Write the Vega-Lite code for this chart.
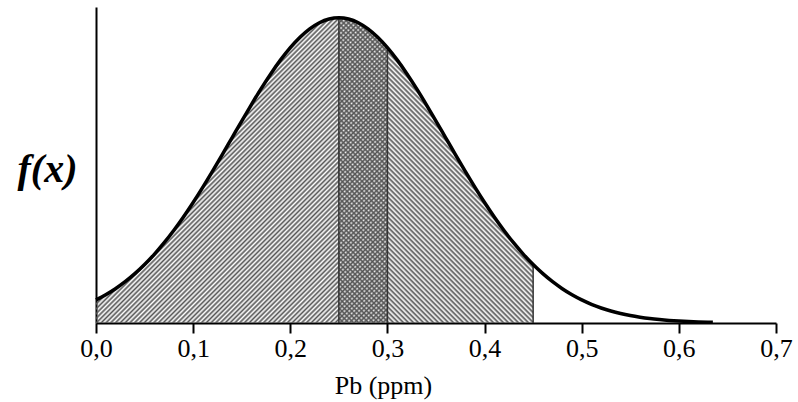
{
"$schema": "https://vega.github.io/schema/vega-lite/v6.json",
"width": 680, "height": 316,
"autosize": {"type": "none"},
"padding": {"left": 96, "top": 7, "right": 22, "bottom": 79},
"background": "white",
"config": {"view": {"stroke": null}, "font": "Liberation Serif"},
"data": {"values": [
{"x":0,"f":0.0756},{"x":0.01,"f":0.0925},{"x":0.02,"f":0.1124},{"x":0.03,"f":0.1353},{"x":0.04,"f":0.1616},
{"x":0.05,"f":0.1915},{"x":0.06,"f":0.2250},{"x":0.07,"f":0.2622},{"x":0.08,"f":0.3029},{"x":0.09,"f":0.3472},
{"x":0.1,"f":0.3946},{"x":0.11,"f":0.4449},{"x":0.12,"f":0.4974},{"x":0.13,"f":0.5515},{"x":0.14,"f":0.6065},
{"x":0.15,"f":0.6615},{"x":0.16,"f":0.7155},{"x":0.17,"f":0.7676},{"x":0.18,"f":0.8167},{"x":0.19,"f":0.8618},
{"x":0.2,"f":0.9019},{"x":0.21,"f":0.9360},{"x":0.22,"f":0.9635},{"x":0.23,"f":0.9836},{"x":0.24,"f":0.9959},
{"x":0.25,"f":1},{"x":0.26,"f":0.9959},{"x":0.27,"f":0.9836},{"x":0.28,"f":0.9635},{"x":0.29,"f":0.9360},
{"x":0.3,"f":0.9019},{"x":0.31,"f":0.8618},{"x":0.32,"f":0.8167},{"x":0.33,"f":0.7676},{"x":0.34,"f":0.7155},
{"x":0.35,"f":0.6615},{"x":0.36,"f":0.6065},{"x":0.37,"f":0.5515},{"x":0.38,"f":0.4974},{"x":0.39,"f":0.4449},
{"x":0.4,"f":0.3946},{"x":0.41,"f":0.3472},{"x":0.42,"f":0.3029},{"x":0.43,"f":0.2622},{"x":0.44,"f":0.2250},
{"x":0.45,"f":0.1915},{"x":0.46,"f":0.1616},{"x":0.47,"f":0.1353},{"x":0.48,"f":0.1124},{"x":0.49,"f":0.0925},
{"x":0.5,"f":0.0756},{"x":0.51,"f":0.0612},{"x":0.52,"f":0.0492},{"x":0.53,"f":0.0392},{"x":0.54,"f":0.0310},
{"x":0.55,"f":0.0243},{"x":0.56,"f":0.0189},{"x":0.57,"f":0.0145},{"x":0.58,"f":0.0111},{"x":0.59,"f":0.0084},
{"x":0.6,"f":0.0063},{"x":0.61,"f":0.0047},{"x":0.62,"f":0.0035},{"x":0.63,"f":0.0026},{"x":0.635,"f":0.0022}
]},
"encoding": {
  "x": {"field": "x", "type": "quantitative", "scale": {"domain": [0, 0.7], "nice": false, "zero": false},
    "axis": {"values": [0, 0.1, 0.2, 0.3, 0.4, 0.5, 0.6, 0.7], "labelExpr": "replace(format(datum.value, '.1f'), '.', ',')",
      "title": "Pb (ppm)", "grid": false, "domainColor": "black", "domainWidth": 2, "tickColor": "black", "tickWidth": 2, "tickSize": 10,
      "labelFont": "Liberation Serif", "labelFontSize": 26, "labelColor": "black", "labelPadding": 2, "labelFlush": false, "labelOverlap": false,
      "titleFont": "Liberation Serif", "titleFontSize": 26, "titleFontWeight": "normal", "titleColor": "black",
      "titleX": 287, "titleY": 70, "titleAlign": "center", "titleBaseline": "alphabetic"}},
  "y": {"field": "f", "type": "quantitative", "scale": {"domain": [0, 1.035], "nice": false},
    "axis": {"title": "f(x)", "labels": false, "ticks": false, "grid": false, "domainColor": "black", "domainWidth": 2,
      "titleFont": "Liberation Serif", "titleFontSize": 40, "titleFontStyle": "italic", "titleFontWeight": "bold", "titleColor": "black",
      "titleAngle": 0, "titleX": -49, "titleY": 162, "titleAlign": "center", "titleBaseline": "middle"}}
},
"layer": [
{"transform": [{"filter": "datum.x <= 0.3"}],
 "mark": {"type": "area", "interpolate": "monotone", "fill": {"gradient": "linear", "x1": 0, "y1": 0, "x2": 0.9762, "y2": 1.0227, "stops": [
{"offset":0,"color":"#555"},{"offset":0.004,"color":"#5550"},{"offset":0.008,"color":"#555"},{"offset":0.012,"color":"#5550"},{"offset":0.016,"color":"#555"},{"offset":0.02,"color":"#5550"},{"offset":0.024,"color":"#555"},{"offset":0.028,"color":"#5550"},{"offset":0.032,"color":"#555"},{"offset":0.036,"color":"#5550"},
{"offset":0.04,"color":"#555"},{"offset":0.044,"color":"#5550"},{"offset":0.048,"color":"#555"},{"offset":0.052,"color":"#5550"},{"offset":0.056,"color":"#555"},{"offset":0.06,"color":"#5550"},{"offset":0.064,"color":"#555"},{"offset":0.068,"color":"#5550"},{"offset":0.072,"color":"#555"},{"offset":0.076,"color":"#5550"},
{"offset":0.08,"color":"#555"},{"offset":0.084,"color":"#5550"},{"offset":0.088,"color":"#555"},{"offset":0.092,"color":"#5550"},{"offset":0.096,"color":"#555"},{"offset":0.1,"color":"#5550"},{"offset":0.104,"color":"#555"},{"offset":0.108,"color":"#5550"},{"offset":0.112,"color":"#555"},{"offset":0.116,"color":"#5550"},
{"offset":0.12,"color":"#555"},{"offset":0.124,"color":"#5550"},{"offset":0.128,"color":"#555"},{"offset":0.132,"color":"#5550"},{"offset":0.136,"color":"#555"},{"offset":0.14,"color":"#5550"},{"offset":0.144,"color":"#555"},{"offset":0.148,"color":"#5550"},{"offset":0.152,"color":"#555"},{"offset":0.156,"color":"#5550"},
{"offset":0.16,"color":"#555"},{"offset":0.164,"color":"#5550"},{"offset":0.168,"color":"#555"},{"offset":0.172,"color":"#5550"},{"offset":0.176,"color":"#555"},{"offset":0.18,"color":"#5550"},{"offset":0.184,"color":"#555"},{"offset":0.188,"color":"#5550"},{"offset":0.192,"color":"#555"},{"offset":0.196,"color":"#5550"},
{"offset":0.2,"color":"#555"},{"offset":0.204,"color":"#5550"},{"offset":0.208,"color":"#555"},{"offset":0.212,"color":"#5550"},{"offset":0.216,"color":"#555"},{"offset":0.22,"color":"#5550"},{"offset":0.224,"color":"#555"},{"offset":0.228,"color":"#5550"},{"offset":0.232,"color":"#555"},{"offset":0.236,"color":"#5550"},
{"offset":0.24,"color":"#555"},{"offset":0.244,"color":"#5550"},{"offset":0.248,"color":"#555"},{"offset":0.252,"color":"#5550"},{"offset":0.256,"color":"#555"},{"offset":0.26,"color":"#5550"},{"offset":0.264,"color":"#555"},{"offset":0.268,"color":"#5550"},{"offset":0.272,"color":"#555"},{"offset":0.276,"color":"#5550"},
{"offset":0.28,"color":"#555"},{"offset":0.284,"color":"#5550"},{"offset":0.288,"color":"#555"},{"offset":0.292,"color":"#5550"},{"offset":0.296,"color":"#555"},{"offset":0.3,"color":"#5550"},{"offset":0.304,"color":"#555"},{"offset":0.308,"color":"#5550"},{"offset":0.312,"color":"#555"},{"offset":0.316,"color":"#5550"},
{"offset":0.32,"color":"#555"},{"offset":0.324,"color":"#5550"},{"offset":0.328,"color":"#555"},{"offset":0.332,"color":"#5550"},{"offset":0.336,"color":"#555"},{"offset":0.34,"color":"#5550"},{"offset":0.344,"color":"#555"},{"offset":0.348,"color":"#5550"},{"offset":0.352,"color":"#555"},{"offset":0.356,"color":"#5550"},
{"offset":0.36,"color":"#555"},{"offset":0.364,"color":"#5550"},{"offset":0.368,"color":"#555"},{"offset":0.372,"color":"#5550"},{"offset":0.376,"color":"#555"},{"offset":0.38,"color":"#5550"},{"offset":0.384,"color":"#555"},{"offset":0.388,"color":"#5550"},{"offset":0.392,"color":"#555"},{"offset":0.396,"color":"#5550"},
{"offset":0.4,"color":"#555"},{"offset":0.404,"color":"#5550"},{"offset":0.408,"color":"#555"},{"offset":0.412,"color":"#5550"},{"offset":0.416,"color":"#555"},{"offset":0.42,"color":"#5550"},{"offset":0.424,"color":"#555"},{"offset":0.428,"color":"#5550"},{"offset":0.432,"color":"#555"},{"offset":0.436,"color":"#5550"},
{"offset":0.44,"color":"#555"},{"offset":0.444,"color":"#5550"},{"offset":0.448,"color":"#555"},{"offset":0.452,"color":"#5550"},{"offset":0.456,"color":"#555"},{"offset":0.46,"color":"#5550"},{"offset":0.464,"color":"#555"},{"offset":0.468,"color":"#5550"},{"offset":0.472,"color":"#555"},{"offset":0.476,"color":"#5550"},
{"offset":0.48,"color":"#555"},{"offset":0.484,"color":"#5550"},{"offset":0.488,"color":"#555"},{"offset":0.492,"color":"#5550"},{"offset":0.496,"color":"#555"},{"offset":0.5,"color":"#5550"},{"offset":0.504,"color":"#555"},{"offset":0.508,"color":"#5550"},{"offset":0.512,"color":"#555"},{"offset":0.516,"color":"#5550"},
{"offset":0.52,"color":"#555"},{"offset":0.524,"color":"#5550"},{"offset":0.528,"color":"#555"},{"offset":0.532,"color":"#5550"},{"offset":0.536,"color":"#555"},{"offset":0.54,"color":"#5550"},{"offset":0.544,"color":"#555"},{"offset":0.548,"color":"#5550"},{"offset":0.552,"color":"#555"},{"offset":0.556,"color":"#5550"},
{"offset":0.56,"color":"#555"},{"offset":0.564,"color":"#5550"},{"offset":0.568,"color":"#555"},{"offset":0.572,"color":"#5550"},{"offset":0.576,"color":"#555"},{"offset":0.58,"color":"#5550"},{"offset":0.584,"color":"#555"},{"offset":0.588,"color":"#5550"},{"offset":0.592,"color":"#555"},{"offset":0.596,"color":"#5550"},
{"offset":0.6,"color":"#555"},{"offset":0.604,"color":"#5550"},{"offset":0.608,"color":"#555"},{"offset":0.612,"color":"#5550"},{"offset":0.616,"color":"#555"},{"offset":0.62,"color":"#5550"},{"offset":0.624,"color":"#555"},{"offset":0.628,"color":"#5550"},{"offset":0.632,"color":"#555"},{"offset":0.636,"color":"#5550"},
{"offset":0.64,"color":"#555"},{"offset":0.644,"color":"#5550"},{"offset":0.648,"color":"#555"},{"offset":0.652,"color":"#5550"},{"offset":0.656,"color":"#555"},{"offset":0.66,"color":"#5550"},{"offset":0.664,"color":"#555"},{"offset":0.668,"color":"#5550"},{"offset":0.672,"color":"#555"},{"offset":0.676,"color":"#5550"},
{"offset":0.68,"color":"#555"},{"offset":0.684,"color":"#5550"},{"offset":0.688,"color":"#555"},{"offset":0.692,"color":"#5550"},{"offset":0.696,"color":"#555"},{"offset":0.7,"color":"#5550"},{"offset":0.704,"color":"#555"},{"offset":0.708,"color":"#5550"},{"offset":0.712,"color":"#555"},{"offset":0.716,"color":"#5550"},
{"offset":0.72,"color":"#555"},{"offset":0.724,"color":"#5550"},{"offset":0.728,"color":"#555"},{"offset":0.732,"color":"#5550"},{"offset":0.736,"color":"#555"},{"offset":0.74,"color":"#5550"},{"offset":0.744,"color":"#555"},{"offset":0.748,"color":"#5550"},{"offset":0.752,"color":"#555"},{"offset":0.756,"color":"#5550"},
{"offset":0.76,"color":"#555"},{"offset":0.764,"color":"#5550"},{"offset":0.768,"color":"#555"},{"offset":0.772,"color":"#5550"},{"offset":0.776,"color":"#555"},{"offset":0.78,"color":"#5550"},{"offset":0.784,"color":"#555"},{"offset":0.788,"color":"#5550"},{"offset":0.792,"color":"#555"},{"offset":0.796,"color":"#5550"},
{"offset":0.8,"color":"#555"},{"offset":0.804,"color":"#5550"},{"offset":0.808,"color":"#555"},{"offset":0.812,"color":"#5550"},{"offset":0.816,"color":"#555"},{"offset":0.82,"color":"#5550"},{"offset":0.824,"color":"#555"},{"offset":0.828,"color":"#5550"},{"offset":0.832,"color":"#555"},{"offset":0.836,"color":"#5550"},
{"offset":0.84,"color":"#555"},{"offset":0.844,"color":"#5550"},{"offset":0.848,"color":"#555"},{"offset":0.852,"color":"#5550"},{"offset":0.856,"color":"#555"},{"offset":0.86,"color":"#5550"},{"offset":0.864,"color":"#555"},{"offset":0.868,"color":"#5550"},{"offset":0.872,"color":"#555"},{"offset":0.876,"color":"#5550"},
{"offset":0.88,"color":"#555"},{"offset":0.884,"color":"#5550"},{"offset":0.888,"color":"#555"},{"offset":0.892,"color":"#5550"},{"offset":0.896,"color":"#555"},{"offset":0.9,"color":"#5550"},{"offset":0.904,"color":"#555"},{"offset":0.908,"color":"#5550"},{"offset":0.912,"color":"#555"},{"offset":0.916,"color":"#5550"},
{"offset":0.92,"color":"#555"},{"offset":0.924,"color":"#5550"},{"offset":0.928,"color":"#555"},{"offset":0.932,"color":"#5550"},{"offset":0.936,"color":"#555"},{"offset":0.94,"color":"#5550"},{"offset":0.944,"color":"#555"},{"offset":0.948,"color":"#5550"},{"offset":0.952,"color":"#555"},{"offset":0.956,"color":"#5550"},
{"offset":0.96,"color":"#555"},{"offset":0.964,"color":"#5550"},{"offset":0.968,"color":"#555"},{"offset":0.972,"color":"#5550"},{"offset":0.976,"color":"#555"},{"offset":0.98,"color":"#5550"},{"offset":0.984,"color":"#555"},{"offset":0.988,"color":"#5550"},{"offset":0.992,"color":"#555"},{"offset":0.996,"color":"#5550"},
{"offset":1,"color":"#555"}
]}}},
{"transform": [{"filter": "datum.x >= 0.25 && datum.x <= 0.45"}],
 "mark": {"type": "area", "interpolate": "monotone", "fill": {"gradient": "linear", "x1": 0, "y1": 1, "x2": 0.7412, "y2": -0.1647, "stops": [
{"offset":0,"color":"#555"},{"offset":0.005,"color":"#5550"},{"offset":0.01,"color":"#555"},{"offset":0.015,"color":"#5550"},{"offset":0.02,"color":"#555"},{"offset":0.025,"color":"#5550"},{"offset":0.03,"color":"#555"},{"offset":0.035,"color":"#5550"},{"offset":0.04,"color":"#555"},{"offset":0.045,"color":"#5550"},
{"offset":0.05,"color":"#555"},{"offset":0.055,"color":"#5550"},{"offset":0.06,"color":"#555"},{"offset":0.065,"color":"#5550"},{"offset":0.07,"color":"#555"},{"offset":0.075,"color":"#5550"},{"offset":0.08,"color":"#555"},{"offset":0.085,"color":"#5550"},{"offset":0.09,"color":"#555"},{"offset":0.095,"color":"#5550"},
{"offset":0.1,"color":"#555"},{"offset":0.105,"color":"#5550"},{"offset":0.11,"color":"#555"},{"offset":0.115,"color":"#5550"},{"offset":0.12,"color":"#555"},{"offset":0.125,"color":"#5550"},{"offset":0.13,"color":"#555"},{"offset":0.135,"color":"#5550"},{"offset":0.14,"color":"#555"},{"offset":0.145,"color":"#5550"},
{"offset":0.15,"color":"#555"},{"offset":0.155,"color":"#5550"},{"offset":0.16,"color":"#555"},{"offset":0.165,"color":"#5550"},{"offset":0.17,"color":"#555"},{"offset":0.175,"color":"#5550"},{"offset":0.18,"color":"#555"},{"offset":0.185,"color":"#5550"},{"offset":0.19,"color":"#555"},{"offset":0.195,"color":"#5550"},
{"offset":0.2,"color":"#555"},{"offset":0.205,"color":"#5550"},{"offset":0.21,"color":"#555"},{"offset":0.215,"color":"#5550"},{"offset":0.22,"color":"#555"},{"offset":0.225,"color":"#5550"},{"offset":0.23,"color":"#555"},{"offset":0.235,"color":"#5550"},{"offset":0.24,"color":"#555"},{"offset":0.245,"color":"#5550"},
{"offset":0.25,"color":"#555"},{"offset":0.255,"color":"#5550"},{"offset":0.26,"color":"#555"},{"offset":0.265,"color":"#5550"},{"offset":0.27,"color":"#555"},{"offset":0.275,"color":"#5550"},{"offset":0.28,"color":"#555"},{"offset":0.285,"color":"#5550"},{"offset":0.29,"color":"#555"},{"offset":0.295,"color":"#5550"},
{"offset":0.3,"color":"#555"},{"offset":0.305,"color":"#5550"},{"offset":0.31,"color":"#555"},{"offset":0.315,"color":"#5550"},{"offset":0.32,"color":"#555"},{"offset":0.325,"color":"#5550"},{"offset":0.33,"color":"#555"},{"offset":0.335,"color":"#5550"},{"offset":0.34,"color":"#555"},{"offset":0.345,"color":"#5550"},
{"offset":0.35,"color":"#555"},{"offset":0.355,"color":"#5550"},{"offset":0.36,"color":"#555"},{"offset":0.365,"color":"#5550"},{"offset":0.37,"color":"#555"},{"offset":0.375,"color":"#5550"},{"offset":0.38,"color":"#555"},{"offset":0.385,"color":"#5550"},{"offset":0.39,"color":"#555"},{"offset":0.395,"color":"#5550"},
{"offset":0.4,"color":"#555"},{"offset":0.405,"color":"#5550"},{"offset":0.41,"color":"#555"},{"offset":0.415,"color":"#5550"},{"offset":0.42,"color":"#555"},{"offset":0.425,"color":"#5550"},{"offset":0.43,"color":"#555"},{"offset":0.435,"color":"#5550"},{"offset":0.44,"color":"#555"},{"offset":0.445,"color":"#5550"},
{"offset":0.45,"color":"#555"},{"offset":0.455,"color":"#5550"},{"offset":0.46,"color":"#555"},{"offset":0.465,"color":"#5550"},{"offset":0.47,"color":"#555"},{"offset":0.475,"color":"#5550"},{"offset":0.48,"color":"#555"},{"offset":0.485,"color":"#5550"},{"offset":0.49,"color":"#555"},{"offset":0.495,"color":"#5550"},
{"offset":0.5,"color":"#555"},{"offset":0.505,"color":"#5550"},{"offset":0.51,"color":"#555"},{"offset":0.515,"color":"#5550"},{"offset":0.52,"color":"#555"},{"offset":0.525,"color":"#5550"},{"offset":0.53,"color":"#555"},{"offset":0.535,"color":"#5550"},{"offset":0.54,"color":"#555"},{"offset":0.545,"color":"#5550"},
{"offset":0.55,"color":"#555"},{"offset":0.555,"color":"#5550"},{"offset":0.56,"color":"#555"},{"offset":0.565,"color":"#5550"},{"offset":0.57,"color":"#555"},{"offset":0.575,"color":"#5550"},{"offset":0.58,"color":"#555"},{"offset":0.585,"color":"#5550"},{"offset":0.59,"color":"#555"},{"offset":0.595,"color":"#5550"},
{"offset":0.6,"color":"#555"},{"offset":0.605,"color":"#5550"},{"offset":0.61,"color":"#555"},{"offset":0.615,"color":"#5550"},{"offset":0.62,"color":"#555"},{"offset":0.625,"color":"#5550"},{"offset":0.63,"color":"#555"},{"offset":0.635,"color":"#5550"},{"offset":0.64,"color":"#555"},{"offset":0.645,"color":"#5550"},
{"offset":0.65,"color":"#555"},{"offset":0.655,"color":"#5550"},{"offset":0.66,"color":"#555"},{"offset":0.665,"color":"#5550"},{"offset":0.67,"color":"#555"},{"offset":0.675,"color":"#5550"},{"offset":0.68,"color":"#555"},{"offset":0.685,"color":"#5550"},{"offset":0.69,"color":"#555"},{"offset":0.695,"color":"#5550"},
{"offset":0.7,"color":"#555"},{"offset":0.705,"color":"#5550"},{"offset":0.71,"color":"#555"},{"offset":0.715,"color":"#5550"},{"offset":0.72,"color":"#555"},{"offset":0.725,"color":"#5550"},{"offset":0.73,"color":"#555"},{"offset":0.735,"color":"#5550"},{"offset":0.74,"color":"#555"},{"offset":0.745,"color":"#5550"},
{"offset":0.75,"color":"#555"},{"offset":0.755,"color":"#5550"},{"offset":0.76,"color":"#555"},{"offset":0.765,"color":"#5550"},{"offset":0.77,"color":"#555"},{"offset":0.775,"color":"#5550"},{"offset":0.78,"color":"#555"},{"offset":0.785,"color":"#5550"},{"offset":0.79,"color":"#555"},{"offset":0.795,"color":"#5550"},
{"offset":0.8,"color":"#555"},{"offset":0.805,"color":"#5550"},{"offset":0.81,"color":"#555"},{"offset":0.815,"color":"#5550"},{"offset":0.82,"color":"#555"},{"offset":0.825,"color":"#5550"},{"offset":0.83,"color":"#555"},{"offset":0.835,"color":"#5550"},{"offset":0.84,"color":"#555"},{"offset":0.845,"color":"#5550"},
{"offset":0.85,"color":"#555"},{"offset":0.855,"color":"#5550"},{"offset":0.86,"color":"#555"},{"offset":0.865,"color":"#5550"},{"offset":0.87,"color":"#555"},{"offset":0.875,"color":"#5550"},{"offset":0.88,"color":"#555"},{"offset":0.885,"color":"#5550"},{"offset":0.89,"color":"#555"},{"offset":0.895,"color":"#5550"},
{"offset":0.9,"color":"#555"},{"offset":0.905,"color":"#5550"},{"offset":0.91,"color":"#555"},{"offset":0.915,"color":"#5550"},{"offset":0.92,"color":"#555"},{"offset":0.925,"color":"#5550"},{"offset":0.93,"color":"#555"},{"offset":0.935,"color":"#5550"},{"offset":0.94,"color":"#555"},{"offset":0.945,"color":"#5550"},
{"offset":0.95,"color":"#555"},{"offset":0.955,"color":"#5550"},{"offset":0.96,"color":"#555"},{"offset":0.965,"color":"#5550"},{"offset":0.97,"color":"#555"},{"offset":0.975,"color":"#5550"},{"offset":0.98,"color":"#555"},{"offset":0.985,"color":"#5550"},{"offset":0.99,"color":"#555"},{"offset":0.995,"color":"#5550"},
{"offset":1,"color":"#555"}
]}}},
{"transform": [{"filter": {"field": "x", "oneOf": [0.25, 0.3, 0.45]}}],
 "mark": {"type": "rule", "color": "#333", "strokeWidth": 1.5},
 "encoding": {"y": {"field": "f", "type": "quantitative"}, "y2": {"datum": 0}}},
{"mark": {"type": "line", "interpolate": "monotone", "color": "black", "strokeWidth": 3.5}}
]
}
